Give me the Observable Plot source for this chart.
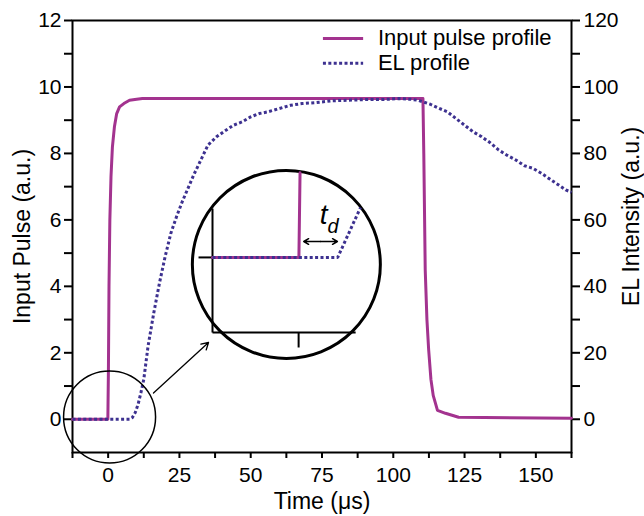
<!DOCTYPE html>
<html><head><meta charset="utf-8">
<script src="https://cdn.jsdelivr.net/npm/d3@7"></script>
<script src="https://cdn.jsdelivr.net/npm/@observablehq/plot@0.6"></script>
<style>body{margin:0;background:#fff;} #chart{width:644px;height:516px;}</style>
</head><body><div id="chart"></div>
<script>
// ---- data ----
const pulseT = [-12.5, -0.1, 0.1, 0.3, 0.6, 1.0, 1.5, 2.2, 3.0, 4.0, 5.5, 7.5, 10, 12, 110.4, 110.7, 111.2, 111.8, 112.4, 113.2, 114, 115.5, 118.3, 122.9, 162.5];
const pulseV = [0, 0, 1.5, 4, 6, 7.3, 8.2, 8.8, 9.2, 9.4, 9.5, 9.6, 9.63, 9.65, 9.65, 8, 4.5, 3, 2.1, 1.2, 0.72, 0.27, 0.18, 0.06, 0.03];
const elT = [-12.5, 7.5, 8.5, 9.5, 10.5, 11.5, 12.5, 14, 16, 18, 20, 22, 24, 26, 28, 30, 32.5, 35, 38, 41, 44, 47, 50, 53, 56, 60, 64, 68, 73, 78, 84, 90, 96, 102, 106, 108.5, 110.5, 113, 116, 119, 122, 125, 128, 131, 134, 137, 140, 143, 146, 149, 152, 155, 158, 160.5, 162.5];
const elV = [0, 0, 0.5, 2, 4.5, 8, 12, 22, 32, 41, 49, 56, 61, 65.5, 69.5, 73.5, 78, 82.5, 85, 86.8, 88.5, 89.5, 91, 92, 92.5, 93.5, 94.5, 95, 95.3, 95.8, 96, 96.2, 96.2, 96.5, 96.3, 96, 95.5, 94.8, 93.6, 92.5, 90.5, 88.5, 86.5, 85, 83.2, 81, 79.4, 78, 76.3, 75.5, 74, 72.2, 70.5, 69, 68.3];
const xTicks = [-12.5, 0, 12.5, 25, 37.5, 50, 62.5, 75, 87.5, 100, 112.5, 125, 137.5, 150, 162.5];
const yTicks = [0, 1, 2, 3, 4, 5, 6, 7, 8, 9, 10, 11, 12];
const legendLabels = ["Input pulse profile", "EL profile"];
// annotation anchors (data units: time, left-axis value)
const smallCircle = [{t: 0.5, v: 0.07}];
const bigCircle = [{t: 62.5, v: 4.66}];
const pointer = [{t1: 15.9, v1: 0.79, t2: 35.2, v2: 2.31}];
const insetAxes = [
  {t1: 36.6, v1: 6.34, t2: 36.6, v2: 2.61},
  {t1: 36.6, v1: 2.61, t2: 86.8, v2: 2.61},
  {t1: 66.8, v1: 2.61, t2: 66.8, v2: 2.16},
  {t1: 31.7, v1: 4.87, t2: 36.6, v2: 4.87}
];
const insetPulseT = [36.6, 66.9, 67.3];
const insetPulseV = [4.87, 4.87, 7.42];
const insetElT = [36.6, 80.5, 88.5];
const insetElV = [4.87, 4.87, 6.37];
const tdArrow = [{tm: 74.5, t1: 68.6, t2: 80.4, v: 5.35}];
const tdLabel = [{t: 76.9, vt: 5.89, vd: 5.62}];

const pulse = pulseT.map((t, i) => ({t, v: pulseV[i]}));
const el = elT.map((t, i) => ({t, v: elV[i]}));
const insetPulse = insetPulseT.map((t, i) => ({t, v: insetPulseV[i]}));
const insetEl = insetElT.map((t, i) => ({t, v: insetElV[i]}));
const legend = [{t1: 75.5, t2: 89.6, v: 11.46, tx: 94.6, label: legendLabels[0]}, {t1: 75.5, t2: 89.6, v: 10.71, tx: 94.6, label: legendLabels[1]}];

const MAG = "#a3338f", BLU = "#3d3190";
const DOTS = {strokeDasharray: "3,2.4", strokeLinecap: "butt", strokeLinejoin: "miter"};

const chart = Plot.plot({
  width: 644, height: 516,
  marginLeft: 72, marginRight: 73, marginTop: 20, marginBottom: 64,
  x: {domain: [-12.5, 162.5]},
  y: {domain: [-1, 12]},
  style: {fontFamily: "'Liberation Sans', Arial, sans-serif", background: "#fff", color: "#000", overflow: "visible"},
  marks: [
    Plot.axisX({ticks: xTicks, tickFormat: d => (d % 25 === 0 ? d : ""), tickSize: 6, tickPadding: 9, fontSize: 21, strokeWidth: 2, label: null}),
    Plot.axisY({anchor: "left", ticks: yTicks, tickFormat: d => (d % 2 === 0 ? d : ""), tickSize: 8, tickPadding: 3, fontSize: 21, strokeWidth: 2, label: null}),
    Plot.axisY({anchor: "right", ticks: yTicks, tickFormat: d => (d % 2 === 0 ? d * 10 : ""), tickSize: 8, tickPadding: 4, fontSize: 21, strokeWidth: 2, label: null}),
    Plot.frame({stroke: "#000", strokeWidth: 2}),
    Plot.text(["Time (μs)"], {frameAnchor: "bottom", dy: 56, fontSize: 23, textAnchor: "middle"}),
    Plot.text(["Input Pulse (a.u.)"], {frameAnchor: "left", dx: -50, rotate: -90, fontSize: 23, textAnchor: "middle"}),
    Plot.text(["EL Intensity (a.u.)"], {frameAnchor: "right", dx: 60, dy: -20, rotate: -90, fontSize: 23, textAnchor: "middle"}),
    Plot.line(pulse, {x: "t", y: "v", stroke: MAG, strokeWidth: 3}),
    Plot.line(el, {x: "t", y: d => d.v / 10, stroke: BLU, strokeWidth: 3, ...DOTS}),
    // legend
    Plot.ruleY(legend.slice(0, 1), {y: "v", x1: "t1", x2: "t2", stroke: MAG, strokeWidth: 3}),
    Plot.ruleY(legend.slice(1), {y: "v", x1: "t1", x2: "t2", stroke: BLU, strokeWidth: 3, ...DOTS}),
    Plot.text(legend, {x: "tx", y: "v", text: "label", textAnchor: "start", fontSize: 22}),
    // circles & pointer
    Plot.dot(smallCircle, {x: "t", y: "v", r: 46, stroke: "#000", strokeWidth: 1.5, fill: "none"}),
    Plot.arrow(pointer, {x1: "t1", y1: "v1", x2: "t2", y2: "v2", stroke: "#000", strokeWidth: 1.3, headLength: 9}),
    Plot.dot(bigCircle, {x: "t", y: "v", r: 94, stroke: "#000", strokeWidth: 3, fill: "#fff"}),
    // inset
    Plot.link(insetAxes, {x1: "t1", y1: "v1", x2: "t2", y2: "v2", stroke: "#000", strokeWidth: 2}),
    Plot.line(insetPulse, {x: "t", y: "v", stroke: MAG, strokeWidth: 3}),
    Plot.line(insetEl, {x: "t", y: "v", stroke: BLU, strokeWidth: 3, ...DOTS}),
    Plot.arrow(tdArrow, {x1: "tm", y1: "v", x2: "t1", y2: "v", stroke: "#000", strokeWidth: 1.5, headLength: 6}),
    Plot.arrow(tdArrow, {x1: "tm", y1: "v", x2: "t2", y2: "v", stroke: "#000", strokeWidth: 1.5, headLength: 6}),
    Plot.text(tdLabel, {x: "t", y: "vt", text: () => "t", fontSize: 28, fontStyle: "italic", textAnchor: "end", lineAnchor: "bottom"}),
    Plot.text(tdLabel, {x: "t", y: "vd", text: () => "d", fontSize: 20, fontStyle: "italic", textAnchor: "start", lineAnchor: "bottom"})
  ]
});
document.getElementById("chart").appendChild(chart);
</script></body></html>
